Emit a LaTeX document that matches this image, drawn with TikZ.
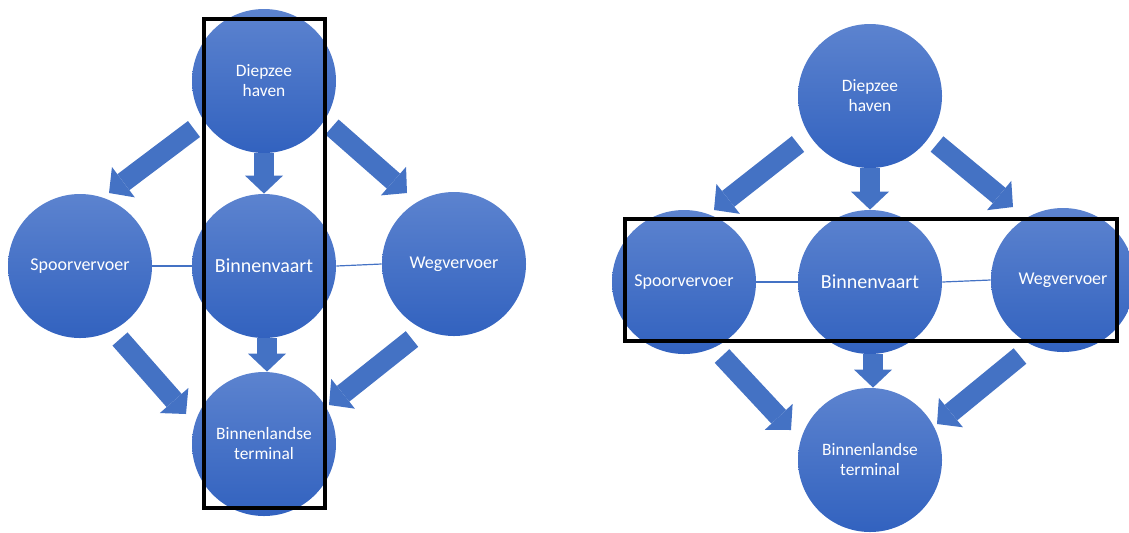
\documentclass[tikz,border=0pt]{standalone}
\usepackage{fontspec}
\setmainfont{Carlito}
\usetikzlibrary{positioning,calc,arrows.meta}

\definecolor{officeblue}{HTML}{4472C4}
\definecolor{circtop}{HTML}{5C83CF}
\definecolor{circbot}{HTML}{3262BF}

\begin{document}
\begin{tikzpicture}[x=0.5pt,y=-0.5pt,node distance=92.5pt,on grid,
				hub/.style={circle, minimum size=72pt, inner sep=0pt, top color=circtop, bottom color=circbot,
					text=white, align=center, font=\fontsize{8.7}{10}\selectfont},
				mode/.style={font=\fontsize{9}{11}\selectfont},
				big/.style={font=\fontsize{10}{12}\selectfont},
				flow/.style={draw=officeblue, line width=10pt, -{Triangle[length=9pt,width=19pt,line width=0pt]}},
				link/.style={draw=officeblue, line width=0.6pt},
				frame/.style={draw=black, line width=2pt}
			]
			\useasboundingbox (0,0) rectangle (1129,532);
			
			% left picture
			\node[hub] (haven_l) at (264,81) {Diepzee\\haven};
			\node[hub,big] (vaart_l) [below=of haven_l] {Binnenvaart};
			\node[hub,mode] (spoor_l) [left=92pt of vaart_l] {Spoorvervoer};
			\node[hub,mode] (weg_l) [right=95pt of vaart_l, yshift=1pt] {Wegvervoer};
			\node[hub] (term_l) [below=89pt of vaart_l] {Binnenlandse\\terminal};
			
			\draw[link] (spoor_l.east) -- (vaart_l.west);
			\draw[link] (vaart_l.east) -- (weg_l.west);
			
			\draw[flow] ($(haven_l)+(-70,48)$) -- ($(spoor_l)+(29,-73)$);
			\draw[flow] (haven_l.south) -- (vaart_l.north);
			\draw[flow] ($(haven_l)+(68,46)$) -- ($(weg_l)+(-47,-71)$);
			\draw[flow] ($(vaart_l.south)+(3,0)$) -- ($(term_l.north)+(3,0)$);
			\draw[flow] ($(spoor_l)+(40,73)$) -- ($(term_l)+(-78,-30)$);
			\draw[flow] ($(weg_l)+(-42,75)$) -- ($(term_l)+(65,-39)$);
			
			\draw[frame] (204,19) rectangle (325,508);
			
			% right picture
			\node[hub] (haven_r) at (870,96) {Diepzee\\haven};
			\node[hub,big] (vaart_r) [below=93pt of haven_r] {Binnenvaart};
			\node[hub,mode] (spoor_r) [left=93pt of vaart_r] {Spoorvervoer};
			\node[hub,mode] (weg_r) [right=96.5pt of vaart_r, yshift=1pt] {Wegvervoer};
			\node[hub] (term_r) [below=89pt of vaart_r] {Binnenlandse\\terminal};
			
			\draw[link] (spoor_r.east) -- (vaart_r.west);
			\draw[link] (vaart_r.east) -- (weg_r.west);
			
			\draw[flow] ($(haven_r)+(-72,48)$) -- ($(spoor_r)+(30,-72)$);
			\draw[flow] (haven_r.south) -- (vaart_r.north);
			\draw[flow] ($(haven_r)+(67,48)$) -- ($(weg_r)+(-50,-73)$);
			\draw[flow] ($(vaart_r.south)+(3,0)$) -- ($(term_r.north)+(3,0)$);
			\draw[flow] ($(spoor_r)+(38,74)$) -- ($(term_r)+(-79,-30)$);
			\draw[flow] ($(weg_r)+(-43,76)$) -- ($(term_r)+(67,-36)$);
			
			\draw[frame] (625,219) rectangle (1117,341);
		\end{tikzpicture}
\end{document}
